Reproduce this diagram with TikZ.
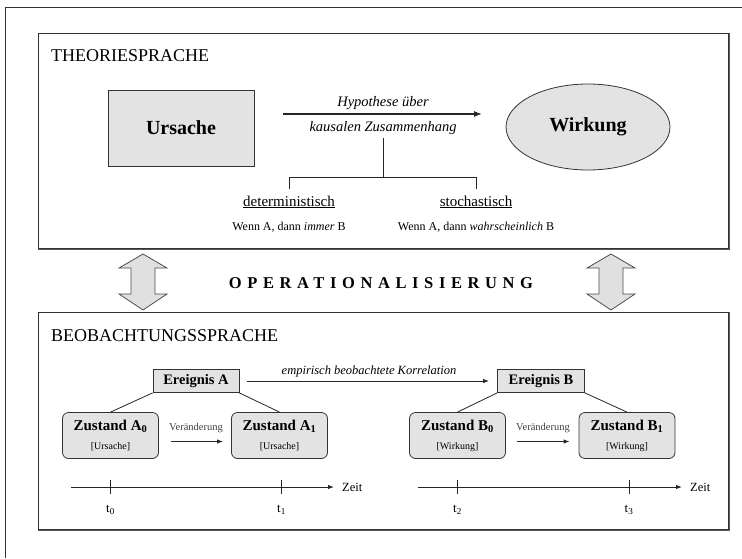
\documentclass[tikz,border=0pt]{standalone}
\usepackage{fontspec}
\setmainfont{Liberation Serif}
\usetikzlibrary{arrows.meta,shapes.geometric}
\begin{document}
\begin{tikzpicture}[x=1pt,y=-1pt,
  frame/.style={draw=black!80, line width=0.8pt},
  panel/.style={draw=black!80, line width=0.9pt, inner sep=0pt},
  shadowline/.style={draw=black!65, line width=1.8pt},
  graybox/.style={draw=black!80, fill=black!11, line width=0.8pt},
  zbox/.style={graybox, rounded corners=6pt, minimum width=96pt, minimum height=46pt, align=center, inner sep=1pt, font=\bfseries\fontsize{15}{17}\selectfont},
  ebox/.style={graybox, minimum height=23pt, inner sep=2pt, font=\bfseries\fontsize{14.5}{16}\selectfont},
  bigarr/.style={draw=black!85, line width=1.2pt, -{Latex[length=8pt,width=6pt]}},
  midarr/.style={draw=black!85, line width=1pt, -{Latex[length=6pt,width=4.5pt]}},
  thinline/.style={draw=black!85, line width=0.8pt},
  title/.style={anchor=west, font=\fontsize{18}{20}\selectfont, inner sep=0pt},
  lbl/.style={inner sep=1pt},
  dblarrow/.pic={
    \draw[draw=black!70, fill=black!12, line width=0.8pt]
      (0,-28) -- (24,-14) -- (12,-14) -- (12,12) -- (24,12) -- (0,28)
      -- (-24,12) -- (-12,12) -- (-12,-14) -- (-24,-14) -- cycle;
  },
]
\useasboundingbox (0,0) rectangle (742,558);

% outer frame (cut off at right and bottom)
\draw[frame] (742,7) -- (5,7) -- (5,558);

% ---------- Theoriesprache ----------
\node[panel, minimum width=690pt, minimum height=215pt] (theory) at (383,140.5) {};
\draw[shadowline] ([shift={(1,0)}]theory.north east) -- ([shift={(1,1)}]theory.south east) -- ([shift={(0,1)}]theory.south west);
\node[title] (tht) at (51,56) {THEORIESPRACHE};

\node[graybox, minimum width=146pt, minimum height=76pt, font=\bfseries\fontsize{20}{22}\selectfont] (u) at (181,128) {Ursache};
\node[graybox, ellipse, minimum width=164pt, minimum height=86pt, font=\bfseries\fontsize{20}{22}\selectfont] (w) at (588,127) {Wirkung};

\coordinate (h1) at (283,114);
\coordinate (h2) at (482,114);
\draw[bigarr] (h1) -- (h2);
\node[lbl, font=\itshape\fontsize{14.5}{16}\selectfont] (hyp) at (383,103) {Hypothese über};
\node[lbl, font=\itshape\fontsize{14.5}{16}\selectfont] (kz) at (383,128) {kausalen Zusammenhang};

\coordinate (br) at (383,177);
\node[lbl, font=\fontsize{15}{17}\selectfont] (det) at (289,202) {\underline{deterministisch}};
\node[lbl, font=\fontsize{15}{17}\selectfont] (sto) at (476,202) {\underline{stochastisch}};
\draw[thinline] ([yshift=-2pt]kz.south) -- (kz.south |- br);
\draw[thinline] ([yshift=6pt]det.north) -- (det.north |- br) -- (sto.north |- br) -- ([yshift=6pt]sto.north);
\node[lbl, font=\fontsize{12}{14}\selectfont] (wd) at (289,227) {Wenn A, dann \textit{immer} B};
\node[lbl, font=\fontsize{12}{14}\selectfont] (ws) at (476,227) {Wenn A, dann \textit{wahrscheinlich} B};

% ---------- Operationalisierung ----------
\pic at (143,282) {dblarrow};
\pic at (611,282) {dblarrow};
\node[lbl, font=\bfseries\fontsize{16.5}{18}\selectfont\addfontfeature{LetterSpace=34}] (op) at (381,283) {OPERATIONALISIERUNG};

% ---------- Beobachtungssprache ----------
\node[panel, minimum width=690pt, minimum height=217pt] (obs) at (383,420.5) {};
\draw[shadowline] ([shift={(1,0)}]obs.north east) -- ([shift={(1,1)}]obs.south east) -- ([shift={(0,1)}]obs.south west);
\node[title] (obt) at (51,336) {BEOBACHTUNGSSPRACHE};

\node[ebox, minimum width=86pt] (ea) at (196,381) {Ereignis A};
\node[ebox, minimum width=87pt] (eb) at (541,381) {Ereignis B};
\draw[midarr] ([xshift=8pt]ea.east) -- ([xshift=-8pt]eb.west);
\node[lbl, font=\itshape\fontsize{12.5}{14}\selectfont] (corr) at (369,371) {empirisch beobachtete Korrelation};

\node[zbox] (a0) at (110.5,435.5) {Zustand A\textsubscript{0}\\[2pt]{\normalfont\fontsize{10}{12}\selectfont[Ursache]}};
\node[zbox] (a1) at (279.5,435.5) {Zustand A\textsubscript{1}\\[2pt]{\normalfont\fontsize{10}{12}\selectfont[Ursache]}};
\node[zbox] (b0) at (457.5,435.5) {Zustand B\textsubscript{0}\\[2pt]{\normalfont\fontsize{10}{12}\selectfont[Wirkung]}};
\node[zbox] (b1) at (627,435.5) {Zustand B\textsubscript{1}\\[2pt]{\normalfont\fontsize{10}{12}\selectfont[Wirkung]}};

\draw[thinline] (ea.south west) -- (a0.north);
\draw[thinline] (ea.south east) -- (a1.north);
\draw[thinline] (eb.south west) -- (b0.north);
\draw[thinline] (eb.south east) -- (b1.north);

\node[lbl, text=black!75, font=\fontsize{10.5}{12}\selectfont] (va) at (196,428) {Veränderung};
\node[lbl, text=black!75, font=\fontsize{10.5}{12}\selectfont] (vb) at (543,428) {Veränderung};
\draw[midarr] ([xshift=12pt,yshift=-6pt]a0.east) -- ([xshift=-8pt,yshift=-6pt]a1.west);
\draw[midarr] ([xshift=11pt,yshift=-6pt]b0.east) -- ([xshift=-9pt,yshift=-6pt]b1.west);

% time axes
\coordinate (axa1) at (71,487);
\coordinate (axa2) at (334,487);
\coordinate (axb1) at (418,487);
\coordinate (axb2) at (682,487);
\draw[midarr] (axa1) -- (axa2);
\draw[midarr] (axb1) -- (axb2);
\node[lbl, anchor=west, font=\fontsize{12.5}{14}\selectfont] (za) at ([xshift=7pt]axa2) {Zeit};
\node[lbl, anchor=west, font=\fontsize{12.5}{14}\selectfont] (zb) at ([xshift=7pt]axb2) {Zeit};

\coordinate (t0) at (a0 |- axa1);
\coordinate (t1) at ([xshift=2pt]a1 |- axa1);
\coordinate (t2) at (b0 |- axb1);
\coordinate (t3) at ([xshift=2pt]b1 |- axb1);
\foreach \t in {t0,t1,t2,t3}{
  \draw[thinline] ([yshift=7pt]\t) -- ([yshift=-7pt]\t);
}
\node[lbl, font=\fontsize{13}{15}\selectfont] (lt0) at ([yshift=-23pt]t0) {t\textsubscript{0}};
\node[lbl, font=\fontsize{13}{15}\selectfont] (lt1) at ([yshift=-23pt]t1) {t\textsubscript{1}};
\node[lbl, font=\fontsize{13}{15}\selectfont] (lt2) at ([yshift=-23pt]t2) {t\textsubscript{2}};
\node[lbl, font=\fontsize{13}{15}\selectfont] (lt3) at ([yshift=-23pt]t3) {t\textsubscript{3}};
\end{tikzpicture}
\end{document}
